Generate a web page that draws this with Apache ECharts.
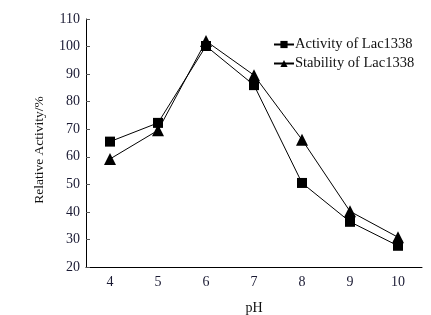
<!DOCTYPE html>
<html><head><meta charset="utf-8">
<script src="https://cdn.jsdelivr.net/npm/echarts@6/dist/echarts.min.js"></script>
<style>html,body{margin:0;padding:0;background:#fff}#c{width:431px;height:315px}</style>
</head><body><div id="c"></div>
<script>
const categories = ['4','5','6','7','8','9','10'];
const activity = [65.5, 72.3, 100.2, 86.0, 50.5, 36.4, 27.7];
const stability = [59.2, 69.6, 102.0, 89.6, 66.2, 40.2, 30.8];
const yTicks = {min: 20, max: 110, interval: 10};
const names = ['Activity of Lac1338', 'Stability of Lac1338'];

const font = '"Liberation Serif", "Times New Roman", serif';
const chart = echarts.init(document.getElementById('c'), null, {renderer: 'canvas'});
chart.setOption({
  animation: false,
  backgroundColor: '#fff',
  grid: {left: 86, right: 9, top: 19, bottom: 48, containLabel: false, outerBoundsMode: 'none'},
  legend: {
    orient: 'vertical', left: 268, top: 32, itemGap: 4,
    itemWidth: 20, itemHeight: 9,
    textStyle: {fontFamily: font, fontSize: 14.5, color: '#111', padding: [0,0,0,-4]},
    data: names
  },
  xAxis: {
    type: 'category', data: categories, boundaryGap: true,
    name: 'pH', nameLocation: 'middle', nameGap: 34,
    nameTextStyle: {fontFamily: font, fontSize: 14, color: '#111'},
    axisLine: {lineStyle: {color: '#000', width: 1}},
    axisTick: {inside: true, alignWithLabel: true, length: 4, lineStyle: {color: '#555'}},
    axisLabel: {fontFamily: font, fontSize: 14, color: '#1a1a33', margin: 8}
  },
  yAxis: {
    type: 'value', min: yTicks.min, max: yTicks.max, interval: yTicks.interval,
    name: 'Relative Activity/%', nameLocation: 'middle', nameGap: 40, nameRotate: 90,
    nameTextStyle: {fontFamily: font, fontSize: 13.5, color: '#111', padding: [0,0,0,-14]},
    axisLine: {show: true, lineStyle: {color: '#000', width: 1}},
    axisTick: {show: true, inside: true, length: 4, lineStyle: {color: '#555'}},
    axisLabel: {fontFamily: font, fontSize: 14, color: '#1a1a33', margin: 6},
    splitLine: {show: false}
  },
  series: [
    {name: names[0], type: 'line', data: activity, symbol: 'rect', symbolSize: 10,
     lineStyle: {color: '#000', width: 1}, itemStyle: {color: '#000'}},
    {name: names[1], type: 'line', data: stability, symbol: 'triangle', symbolSize: 12,
     lineStyle: {color: '#000', width: 1}, itemStyle: {color: '#000'}}
  ]
});
</script></body></html>
